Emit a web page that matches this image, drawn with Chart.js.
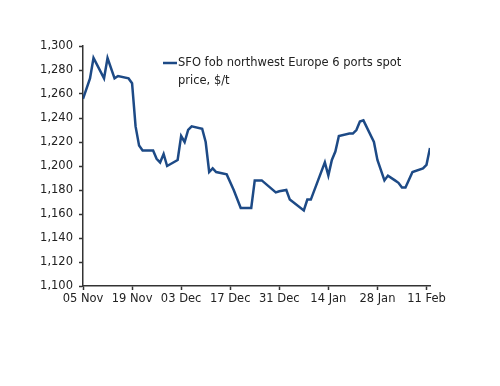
<!DOCTYPE html>
<html>
<head>
<meta charset="utf-8">
<script src="https://cdn.jsdelivr.net/npm/chart.js@4/dist/chart.umd.min.js"></script>
<style>
  body { margin: 0; background: #fff; }
  canvas { display: block; }
</style>
</head>
<body>
<canvas id="myChart" width="500" height="386"></canvas>
<script>
// days counted from 05 Nov
const days = [0, 2, 3, 6, 7, 9, 10, 13, 14, 15, 16, 17, 20, 21, 22, 23, 24, 27, 28, 29, 30, 31, 34, 35, 36, 37, 38, 41, 43, 45, 48, 49, 51, 55, 56, 58, 59, 63, 64, 65, 69, 70, 71, 72, 73, 76, 77, 78, 79, 80, 83, 84, 86, 87, 89, 90, 91, 92, 94, 97, 98, 99]
const prices = [1256, 1273, 1290, 1273, 1290, 1273, 1275, 1273, 1269, 1233, 1217, 1213, 1213, 1206, 1203, 1210, 1200, 1205, 1225, 1220, 1230, 1233, 1231, 1220, 1195, 1198, 1195, 1193, 1180, 1165, 1165, 1188, 1188, 1178, 1179, 1180, 1172, 1163, 1172, 1172, 1203, 1192, 1205, 1212, 1225, 1227, 1227, 1230, 1237, 1238, 1220, 1205, 1188, 1192, 1188, 1186, 1182, 1182, 1195, 1198, 1201, 1215]
const tickLabels = ["05 Nov", "19 Nov", "03 Dec", "17 Dec", "31 Dec", "14 Jan", "28 Jan", "11 Feb"]
const tickDays = [0, 14, 28, 42, 56, 70, 84, 98]
const legendLines = ["SFO fob northwest Europe 6 ports spot", "price, $/t"]

const lineColor = "#1d4a86"
const axisColor = "#333333"
const font = { family: "'DejaVu Sans', Verdana, sans-serif", size: 11.5 }

const points = days.map((d, i) => ({ x: d, y: prices[i] }))

// legend drawn inside the plot, wrapped on two lines
const legendPlugin = {
    id: "wrapLegend",
    afterDraw(chart) {
        const ctx = chart.ctx
        ctx.save()
        ctx.strokeStyle = lineColor
        ctx.lineWidth = 2.5
        ctx.beginPath()
        ctx.moveTo(163, 63)
        ctx.lineTo(177, 63)
        ctx.stroke()
        ctx.fillStyle = "#222"
        ctx.font = font.size + "px " + font.family
        ctx.textBaseline = "middle"
        legendLines.forEach((t, i) => ctx.fillText(t, 178, 63 + i * 18))
        ctx.restore()
    }
}

new Chart(document.getElementById("myChart").getContext("2d"), {
    type: "line",
    data: {
        datasets: [{
            label: legendLines.join(" "),
            data: points,
            borderColor: lineColor,
            borderWidth: 2.5,
            pointRadius: 0,
            tension: 0,
            fill: false
        }]
    },
    options: {
        responsive: false,
        animation: false,
        layout: { padding: { left: 0, right: 70, top: 46, bottom: 70 } },
        plugins: {
            legend: { display: false },
            tooltip: { enabled: false }
        },
        scales: {
            x: {
                type: "linear",
                min: 0,
                max: 99,
                afterBuildTicks: (scale) => { scale.ticks = tickDays.map(v => ({ value: v })) },
                afterFit: (scale) => { scale.height = 30 },
                border: { display: true, color: axisColor, width: 1.5 },
                grid: { display: true, drawOnChartArea: false, tickLength: 4, color: axisColor, tickWidth: 1.5 },
                ticks: {
                    color: "#222",
                    font: font,
                    padding: 2,
                    maxRotation: 0,
                    autoSkip: false,
                    callback: (v) => tickLabels[tickDays.indexOf(v)]
                }
            },
            y: {
                min: 1100,
                max: 1300,
                afterFit: (scale) => { scale.width = 83 },
                border: { display: true, color: axisColor, width: 1.5 },
                grid: { display: true, drawOnChartArea: false, tickLength: 4, color: axisColor, tickWidth: 1.5 },
                ticks: {
                    stepSize: 20,
                    color: "#222",
                    font: font,
                    padding: 6,
                    callback: (v) => v.toLocaleString("en-US")
                }
            }
        }
    },
    plugins: [legendPlugin]
});
</script>
</body>
</html>
